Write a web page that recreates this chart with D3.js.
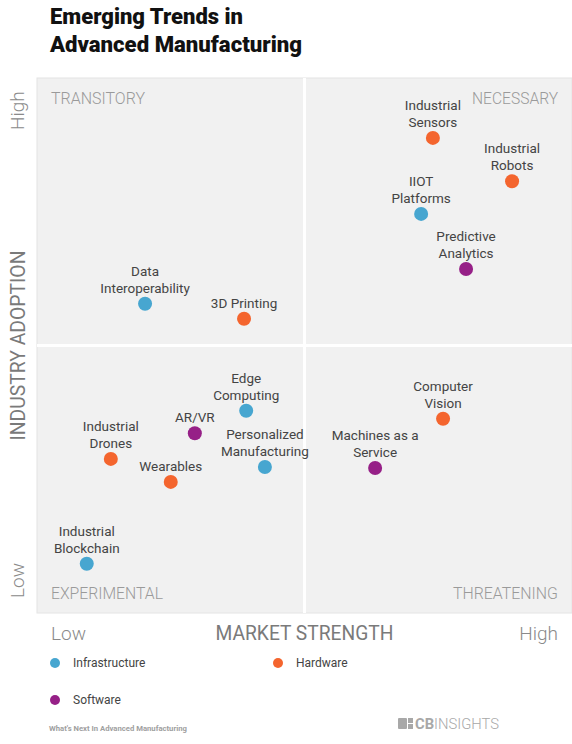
<!DOCTYPE html>
<html lang="en">
<head>
  <meta charset="UTF-8" />
  <title>Emerging Trends in Advanced Manufacturing</title>
  <script src="https://d3js.org/d3.v7.min.js"></script>
  <style>
    body, html {
      margin: 0;
      padding: 0;
      background: #fff;
    }
    svg {
      display: block;
      font-family: Roboto, "Noto Sans", sans-serif;
    }
  </style>
</head>
<body>
  <svg id="chart" width="572" height="744"></svg>
  <script>
    // Trend names (market strength 0-100, adoption 0-100)
    const trends = [
      'Industrial\nSensors', 'Industrial\nRobots', 'IIOT\nPlatforms', 'Predictive\nAnalytics',
      'Data\nInteroperability', '3D Printing', 'Edge\nComputing', 'AR/VR',
      'Industrial\nDrones', 'Personalized\nManufacturing', 'Wearables', 'Industrial\nBlockchain',
      'Computer\nVision', 'Machines as a\nService'
    ];
    const marketStrength = [74.0, 88.8, 71.8, 80.2, 20.2, 38.7, 39.1, 29.5, 13.8, 42.6, 25.0, 9.3, 75.9, 63.2];
    const adoption       = [88.8, 80.7, 74.6, 64.3, 57.8, 55.0, 37.8, 33.6, 28.8, 27.3, 24.5, 9.2, 36.3, 27.1];
    const trendType = [
      'Hardware', 'Hardware', 'Infrastructure', 'Software',
      'Infrastructure', 'Hardware', 'Infrastructure', 'Software',
      'Hardware', 'Infrastructure', 'Hardware', 'Infrastructure',
      'Hardware', 'Software'
    ];
    const types = ['Infrastructure', 'Hardware', 'Software'];
    const typeColors = ['#47a6d0', '#f4652e', '#962087'];
    const quadrants = ['TRANSITORY', 'NECESSARY', 'EXPERIMENTAL', 'THREATENING'];

    const data = trends.map((t, i) => ({
      label: t, x: marketStrength[i], y: adoption[i], type: trendType[i]
    }));

    const svg = d3.select('#chart');
    const plot = { left: 37, top: 78, right: 572, bottom: 613 };

    const x = d3.scaleLinear().domain([0, 100]).range([plot.left, plot.right]);
    const y = d3.scaleLinear().domain([0, 100]).range([plot.bottom, plot.top]);
    const color = d3.scaleOrdinal().domain(types).range(typeColors);

    // Title
    const title = svg.append('g').attr('font-weight', 900).attr('fill', '#111').attr('font-size', 22);
    title.append('text').attr('x', 50).attr('y', 24)
      .attr('textLength', 193).attr('lengthAdjust', 'spacingAndGlyphs')
      .text('Emerging Trends in');
    title.append('text').attr('x', 50).attr('y', 52)
      .attr('textLength', 252).attr('lengthAdjust', 'spacingAndGlyphs')
      .text('Advanced Manufacturing');

    // Plot background and quadrant dividers
    svg.append('rect')
      .attr('x', plot.left).attr('y', plot.top)
      .attr('width', plot.right - plot.left).attr('height', plot.bottom - plot.top)
      .attr('fill', '#f1f1f1')
      .attr('stroke', '#e4e4e4');

    svg.append('line')
      .attr('x1', x(50)).attr('x2', x(50))
      .attr('y1', plot.top).attr('y2', plot.bottom)
      .attr('stroke', '#fff').attr('stroke-width', 3);
    svg.append('line')
      .attr('x1', plot.left).attr('x2', plot.right)
      .attr('y1', y(50)).attr('y2', y(50))
      .attr('stroke', '#fff').attr('stroke-width', 3);

    // Quadrant names
    const qg = svg.append('g').attr('fill', '#9a9a9a').attr('font-size', 17).attr('font-weight', 300);
    const qPos = [
      { x: 51, y: 104, anchor: 'start', w: 94 },
      { x: 558, y: 104, anchor: 'end', w: 86 },
      { x: 51, y: 599, anchor: 'start', w: 112 },
      { x: 558, y: 599, anchor: 'end', w: 105 }
    ];
    quadrants.forEach((q, i) => {
      qg.append('text')
        .attr('x', qPos[i].x).attr('y', qPos[i].y)
        .attr('text-anchor', qPos[i].anchor)
        .attr('textLength', qPos[i].w).attr('lengthAdjust', 'spacingAndGlyphs')
        .text(q);
    });

    // Axis titles
    const axisG = svg.append('g').attr('fill', '#8a8a8a').attr('font-weight', 300);
    axisG.append('text')
      .attr('transform', `translate(25, ${(plot.top + plot.bottom) / 2}) rotate(-90)`)
      .attr('text-anchor', 'middle').attr('font-size', 21).attr('font-weight', 400).attr('fill', '#7a7a7a')
      .attr('textLength', 190).attr('lengthAdjust', 'spacingAndGlyphs')
      .text('INDUSTRY ADOPTION');
    axisG.append('text')
      .attr('transform', `translate(24, 130) rotate(-90)`)
      .attr('text-anchor', 'start').attr('font-size', 19)
      .text('High');
    axisG.append('text')
      .attr('transform', `translate(24, 598) rotate(-90)`)
      .attr('text-anchor', 'start').attr('font-size', 19)
      .text('Low');

    axisG.append('text')
      .attr('x', (plot.left + plot.right) / 2).attr('y', 640)
      .attr('text-anchor', 'middle').attr('font-size', 21).attr('font-weight', 400).attr('fill', '#7a7a7a')
      .attr('textLength', 178).attr('lengthAdjust', 'spacingAndGlyphs')
      .text('MARKET STRENGTH');
    axisG.append('text')
      .attr('x', 51).attr('y', 640).attr('font-size', 19)
      .text('Low');
    axisG.append('text')
      .attr('x', 558).attr('y', 640).attr('text-anchor', 'end').attr('font-size', 19)
      .text('High');

    // Points
    const pts = svg.append('g')
      .selectAll('g.pt')
      .data(data)
      .enter().append('g')
      .attr('class', 'pt')
      .attr('transform', d => `translate(${x(d.x)}, ${y(d.y)})`);

    pts.append('circle')
      .attr('r', 7)
      .attr('fill', d => color(d.type));

    pts.append('text')
      .attr('text-anchor', 'middle')
      .attr('font-size', 13.5)
      .attr('fill', '#444')
      .each(function(d) {
        const lines = d.label.split('\n');
        const t = d3.select(this);
        lines.forEach((line, j) => {
          t.append('tspan')
            .attr('x', 0)
            .attr('y', -11 - (lines.length - 1 - j) * 17)
            .text(line);
        });
      });

    // Legend
    const legendPos = [[55, 663], [278, 663], [55, 700]];
    const legend = svg.append('g')
      .selectAll('g.leg')
      .data(types)
      .enter().append('g')
      .attr('class', 'leg')
      .attr('transform', (d, i) => `translate(${legendPos[i][0]}, ${legendPos[i][1]})`);
    legend.append('circle').attr('r', 5).attr('fill', d => color(d));
    legend.append('text')
      .attr('x', 18).attr('dy', '0.35em')
      .attr('font-size', 12).attr('fill', '#444')
      .text(d => d);

    // Footer
    svg.append('text')
      .attr('x', 49).attr('y', 731)
      .attr('font-size', 7.5).attr('font-weight', 700).attr('fill', '#a0a0a0')
      .attr('textLength', 138).attr('lengthAdjust', 'spacingAndGlyphs')
      .text("What's Next In Advanced Manufacturing");

    const logo = svg.append('g').attr('transform', 'translate(398, 718)').attr('fill', '#a8a8a8');
    logo.append('rect').attr('x', 0).attr('y', 0).attr('width', 9).attr('height', 11).attr('rx', 1);
    logo.append('rect').attr('x', 10).attr('y', 0).attr('width', 5).attr('height', 5);
    logo.append('rect').attr('x', 10).attr('y', 6).attr('width', 5).attr('height', 5);
    const logoText = logo.append('text').attr('x', 17).attr('y', 11).attr('font-size', 14.5)
      .attr('textLength', 84).attr('lengthAdjust', 'spacingAndGlyphs');
    logoText.append('tspan').attr('font-weight', 700).text('CB');
    logoText.append('tspan').attr('font-weight', 300).text('INSIGHTS');
  </script>
</body>
</html>
